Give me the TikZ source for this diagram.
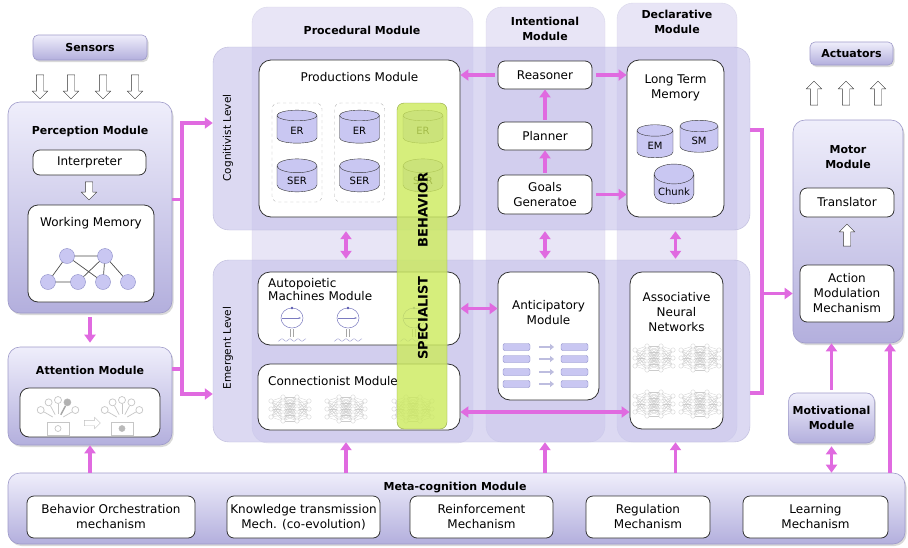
\documentclass[tikz,border=0pt]{standalone}
\usepackage{fontspec}
\setmainfont{DejaVu Sans}
\usetikzlibrary{shapes.geometric,shapes.arrows,shadows,arrows.meta}

\definecolor{lavlight}{HTML}{EFEEFB}
\definecolor{lavdark}{HTML}{B3AFDD}
\definecolor{lavedge}{HTML}{9E9AC9}
\definecolor{lanefill}{HTML}{D8D3F0}
\definecolor{bandfill}{HTML}{C4C0EA}
\definecolor{cylfill}{HTML}{C9C7F2}
\definecolor{linkpink}{HTML}{E06AE0}
\definecolor{specgreen}{HTML}{CCEA5C}
\definecolor{iconblue}{HTML}{5A5AB0}

\begin{document}
\fontsize{12}{15}\selectfont
\begin{tikzpicture}[x=1pt,y=-1pt]
  \tikzset{
    module/.style={draw=lavedge, line width=.6pt, rounded corners=12, top color=lavlight, bottom color=lavdark,
      drop shadow={opacity=.3, shadow xshift=1.5pt, shadow yshift=-2pt}},
    lane/.style={fill=lanefill, fill opacity=.6, draw=lavedge!40, rounded corners=16},
    level/.style={fill=bandfill, fill opacity=.6, draw=lavedge!70, rounded corners=16},
    inbox/.style={draw=black!80, line width=.8pt, fill=white, rounded corners=7, align=center},
    title/.style={font=\fontsize{11}{15}\selectfont\bfseries, align=center},
    db/.style={cylinder, shape border rotate=90, aspect=.5, draw=black!80, fill=cylfill, font=\fontsize{10}{12}\selectfont},
    hollow/.style={single arrow, draw=black!80, fill=white, inner sep=3.5pt, single arrow head extend=4pt, minimum height=24},
    memnode/.style={circle, draw=iconblue!70, fill=cylfill, minimum size=15, inner sep=0pt},
    rulebox/.style={draw=gray!60, dashed, rounded corners=6, minimum width=50, minimum height=99},
    link/.style={draw=linkpink, line width=3.2pt},
    linkarrow/.style={link, -{Triangle[width=11pt,length=8pt]}},
    linkboth/.style={link, {Triangle[width=11pt,length=8pt]}-{Triangle[width=11pt,length=8pt]}},
    netline/.style={draw=gray!40, line width=.3pt},
    handline/.style={draw=gray!45, line width=.7pt},
    nnet/.pic={
      \foreach \i in {-1,0,1}{\foreach \j in {-2,...,2}{
        \draw[netline] (-19,\i*8) -- (-7,\j*6); \draw[netline] (7,\j*6) -- (19,\i*8);}}
      \foreach \i in {-2,...,2}{\foreach \j in {-2,...,2}{\draw[netline] (-7,\i*6) -- (7,\j*6);}}
      \foreach \i in {-1,0,1}{\draw[netline,fill=white] (-19,\i*8) circle (2.2) (19,\i*8) circle (2.2);}
      \foreach \i in {-2,...,2}{\draw[netline,fill=white] (-7,\i*6) circle (2.2) (7,\i*6) circle (2.2);}
    },
    cell/.pic={
      \draw[iconblue!80, line width=.5pt] (0,0) ellipse (11 and 10);
      \draw[iconblue!80, line width=.5pt, -{Stealth[length=2.5pt]}] (-10,0) -- (9,0);
      \fill[iconblue] (0,-10) circle (1.4);
      \draw[gray!70, line width=.4pt] (-1.5,11) -- (-1.5,19) (1.5,11) -- (1.5,19);
      \draw[iconblue!60, line width=.4pt] plot[domain=-14:14, samples=40] (\x,{22+1.2*sin(\x*45)});
    },
    hand/.pic={
      \draw[handline] (-11,-6) rectangle (11,7);
      \draw[handline] (0,0.5) circle (3);
      \foreach \a in {150,118,90,62,30}{
        \draw[handline] (0,-8) ++(-\a:6) -- ++(-\a:10);
        \draw[handline] (0,-8) ++(-\a:20) circle (3.5);}
    }
  }
  \path[use as bounding box] (0,0) rectangle (908,547);

  % module lanes and levels
  \node[lane, minimum width=221, minimum height=436] (proclane) at (362.5,225) {};
  \node[lane, minimum width=119, minimum height=435] (intlane) at (545.5,224.5) {};
  \node[lane, minimum width=120, minimum height=439] (declane) at (677,222.5) {};
  \node[level, minimum width=537, minimum height=183] (cogband) at (481.5,138.5) {};
  \node[level, minimum width=537, minimum height=182] (emband) at (481.5,351) {};
  \node[title] (proctitle) at (362,30) {Procedural Module};
  \node[title] (inttitle) at (545,29) {Intentional\\Module};
  \node[title] (dectitle) at (677,22) {Declarative\\Module};
  \node[rotate=90, font=\fontsize{10.5}{12}\selectfont] (coglabel) at (228,138) {Cognitivist Level};
  \node[rotate=90, font=\fontsize{10.5}{12}\selectfont] (emlabel) at (228,348) {Emergent Level};

  % perception side
  \node[module, rounded corners=5, minimum width=114, minimum height=25, title] (sensors) at (90,47.5) {Sensors};
  \foreach \x [count=\k] in {40,71,103,135}
    \node[hollow, rotate=-90] (sense\k) at (\x,85) {};
  \node[module, minimum width=164, minimum height=211] (perception) at (90,207.5) {};
  \node[title] (perctitle) at (90,131) {Perception Module};
  \node[inbox, minimum width=113, minimum height=25] (interp) at (89.5,162.5) {Interpreter};
  \node[hollow, rotate=-90, minimum height=18] (interpdown) at (89,189) {};
  \node[inbox, minimum width=126, minimum height=97, rounded corners=10] (wm) at (91,253.5) {};
  \node (wmtitle) at (91,223) {Working Memory};
  \node[memnode] (m1) at (67,256) {};
  \node[memnode] (m2) at (105,256) {};
  \node[memnode] (m3) at (48,282) {};
  \node[memnode] (m4) at (78,282) {};
  \node[memnode] (m5) at (103,282) {};
  \node[memnode] (m6) at (128,282) {};
  \draw[black!70, line width=.7pt] (m1) -- (m2) (m1) -- (m3) (m1) -- (m5) (m2) -- (m4)
    (m2) -- (m5) (m2) -- (m6) (m3) -- (m4);

  \node[module, minimum width=164, minimum height=98] (attention) at (90,396) {};
  \node[title] (atttitle) at (90,370) {Attention Module};
  \node[inbox, minimum width=140, minimum height=49, rounded corners=9] (focus) at (90,412.5) {};
  \pic at (58,428) {hand};
  \pic at (122,428) {hand};
  \draw[gray!70, line width=1.4pt] (60.8,414.7) -- (65.5,405.9);
  \fill[gray!60] (67.4,402.3) circle (3.5);
  \fill[gray!55] (122,428.5) circle (3);
  \node[hollow, draw=gray!50, minimum height=16, inner sep=2.5pt, single arrow head extend=3pt] (shift) at (91,423) {};

  % cognitivist level
  \node[inbox, minimum width=201, minimum height=157, rounded corners=12] (prod) at (359.5,138.5) {};
  \node (prodtitle) at (359.5,77) {Productions Module};
  \node[rulebox] (rules1) at (297,152.5) {};
  \node[rulebox] (rules2) at (359.5,152.5) {};
  \foreach \x [count=\k] in {297,359.5,423}{
    \node[db, minimum width=40, minimum height=33] (er\k) at (\x,131) {ER};
    \node[db, minimum width=40, minimum height=33] (ser\k) at (\x,181) {SER};
  }
  \node[inbox, minimum width=94, minimum height=28] (reasoner) at (545,75) {Reasoner};
  \node[inbox, minimum width=94, minimum height=28] (planner) at (545,136) {Planner};
  \node[inbox, minimum width=94, minimum height=39] (goals) at (545,194.5) {Goals\\Generatoe};
  \node[inbox, minimum width=97, minimum height=157, rounded corners=12] (ltm) at (675.5,138.5) {};
  \node[align=center] (ltmtitle) at (675.5,88) {Long Term\\Memory};
  \node[db, minimum width=36, minimum height=33] (em) at (655,146) {EM};
  \node[db, minimum width=38, minimum height=32] (sm) at (699,141) {SM};
  \node[db, minimum width=38, minimum height=33] (chunk) at (674,192) {Chunk};

  % emergent level
  \node[inbox, minimum width=202, minimum height=73, rounded corners=12] (autop) at (359,308.5) {};
  \node[align=left, anchor=north west] (autoptitle) at (264,274) {Autopoietic\\[-2pt]Machines Module};
  \foreach \x in {292,348,414} \pic at (\x,318) {cell};
  \node[inbox, minimum width=202, minimum height=66, rounded corners=12] (conn) at (359,397) {};
  \node[anchor=west] (conntitle) at (264,381) {Connectionist Module};
  \foreach \x in {290,346,413} \pic at (\x,409) {nnet};
  \node[inbox, minimum width=101, minimum height=128, rounded corners=12] (anticip) at (548.5,336) {};
  \node[align=center] (antitle) at (548.5,313) {Anticipatory\\Module};
  \foreach \y in {347,359,372,384}{
    \draw[iconblue!70, fill=cylfill, rounded corners=2] (503,\y-3.5) rectangle (530,\y+3.5);
    \draw[iconblue!70, fill=cylfill, rounded corners=2] (561,\y-3.5) rectangle (588,\y+3.5);
    \draw[iconblue!40, line width=2pt, -{Triangle[width=6pt,length=4pt]}] (539,\y) -- (554,\y);
  }
  \node[inbox, minimum width=93, minimum height=157, rounded corners=12] (assoc) at (676.5,350.5) {};
  \node[align=center] (assoctitle) at (676.5,312) {Associative\\Neural\\Networks};
  \foreach \x in {654,700}{\foreach \y in {358,404} \pic at (\x,\y) {nnet};}

  % specialist behaviour strip
  \node[draw=specgreen!70!black, fill=specgreen, fill opacity=.8, rounded corners=7,
    minimum width=50, minimum height=326] (specbar) at (422,266) {};
  \node[rotate=90, font=\fontsize{13}{15}\selectfont\bfseries] (behav) at (423,210) {BEHAVIOR};
  \node[rotate=90, font=\fontsize{13}{15}\selectfont\bfseries] (spec) at (423,318) {SPECIALIST};

  % motor side
  \node[module, rounded corners=5, minimum width=83, minimum height=23, title] (actuators) at (851.5,53.5) {Actuators};
  \foreach \x [count=\k] in {814,846,878}
    \node[hollow, rotate=90] (act\k) at (\x,95) {};
  \node[module, minimum width=110, minimum height=223] (motor) at (848,231.5) {};
  \node[title] (motortitle) at (848,157) {Motor\\Module};
  \node[inbox, minimum width=94, minimum height=29] (translator) at (847,202.5) {Translator};
  \node[hollow, rotate=90, minimum height=22] (transup) at (847,237) {};
  \node[inbox, minimum width=94, minimum height=57] (action) at (847,293.5) {Action\\Modulation\\Mechanism};
  \node[module, rounded corners=8, minimum width=73, minimum height=50, title] (motiv) at (831.5,418) {Motivational\\Module};

  % meta-cognition
  \node[module, minimum width=897, minimum height=71] (meta) at (456.5,508.5) {};
  \node[title] (metatitle) at (455,487) {Meta-cognition Module};
  \node[inbox, minimum width=168, minimum height=42] (orch) at (111,517) {Behavior Orchestration\\mechanism};
  \node[inbox, minimum width=153, minimum height=42, inner xsep=1pt] (knowl) at (303.5,517) {Knowledge transmission\\Mech. (co-evolution)};
  \node[inbox, minimum width=143, minimum height=42] (reinf) at (481.5,517) {Reinforcement\\Mechanism};
  \node[inbox, minimum width=124, minimum height=42] (regul) at (648,517) {Regulation\\Mechanism};
  \node[inbox, minimum width=145, minimum height=42] (learn) at (815.5,517) {Learning\\Mechanism};

  % links
  \coordinate (lbustop) at (182,123);
  \coordinate (lbusbot) at (182,394);
  \coordinate (rbustop) at (762,130);
  \coordinate (rbusbot) at (762,393);
  \coordinate (proccx) at (346,0);
  \coordinate (motorfeed) at ([xshift=42]motor.south);
  \draw[link] ([yshift=8]perception.east) -- ([yshift=8]perception.east -| lbustop);
  \draw[link] ([yshift=27]attention.east) -- ([yshift=27]attention.east -| lbustop);
  \draw[linkarrow] (lbusbot) -- (lbustop) -- (lbustop -| cogband.west);
  \draw[linkarrow] (lbustop) -- (lbusbot) -- (lbusbot -| emband.west);
  \draw[link] (rbustop -| cogband.east) -- (rbustop) -- (rbusbot) -- (rbusbot -| emband.east);
  \draw[linkarrow] (rbustop |- action.west) -- (action.west -| motor.west);
  \draw[linkarrow, shorten <=4pt, shorten >=4pt] (perception) -- (attention);
  \draw[linkarrow] (attention.south |- meta.north) -- (attention.south);
  \draw[linkarrow] (proccx |- meta.north) -- (proccx |- emband.south);
  \draw[linkarrow] (reasoner |- meta.north) -- (reasoner |- emband.south);
  \draw[linkarrow] (ltm |- meta.north) -- (ltm |- emband.south);
  \draw[linkboth, shorten <=1pt, shorten >=1pt] (proccx |- cogband.south) -- (proccx |- emband.north);
  \draw[linkboth, shorten <=1pt, shorten >=1pt] (reasoner |- cogband.south) -- (reasoner |- emband.north);
  \draw[linkboth, shorten <=1pt, shorten >=1pt] (ltm |- cogband.south) -- (ltm |- emband.north);
  \draw[linkarrow, shorten <=2pt] (planner) -- (reasoner);
  \draw[linkarrow, shorten <=2pt] (goals) -- (planner);
  \draw[linkarrow, shorten <=3pt] (reasoner) -- (reasoner -| prod.east);
  \draw[linkarrow, shorten <=4pt] (reasoner) -- (reasoner -| ltm.west);
  \draw[linkarrow, shorten <=4pt] (goals) -- (goals -| ltm.west);
  \draw[linkboth] (anticip.west |- autop.east) -- (autop.east);
  \draw[linkboth] ([yshift=-15]conn.east) -- ([yshift=-15]conn.east -| assoc.west);
  \draw[linkarrow, shorten <=3pt] (motiv) -- (motiv |- motor.south);
  \draw[linkboth, shorten <=3pt] (motiv) -- (motiv |- meta.north);
  \draw[linkarrow] (motorfeed |- meta.north) -- (motorfeed);
\end{tikzpicture}
\end{document}
